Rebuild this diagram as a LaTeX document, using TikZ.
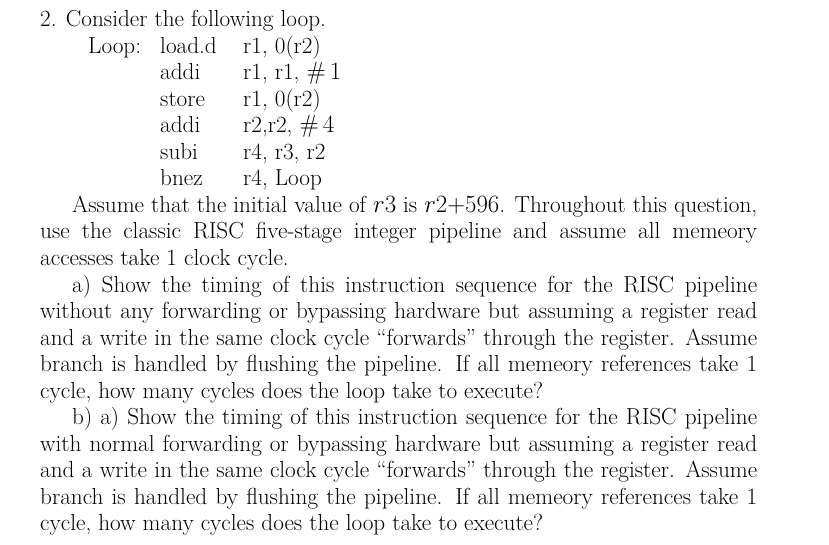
\documentclass[tikz,border=0pt]{standalone}
\begin{document}
\begin{tikzpicture}[x=1pt,y=-1pt,
  txt/.style={anchor=base west,inner sep=0pt,font=\fontsize{23.2}{26}\selectfont}]
\useasboundingbox (0,0) rectangle (829,545);
\newcommand\jl[3]{\node[txt] (n#1) at (#2,{27+26.5*#1}) {#3};}
\newcommand\fl[3]{\node[txt] (n#1) at (#2,{27+26.5*#1}) {\makebox[\dimexpr757pt-#2pt\relax][s]{#3}};}
\jl{0}{40}{2. Consider the following loop.}
\jl{1}{88}{Loop:}
\node[txt] (c1a) at (160,53.5) {load.d}; \node[txt] (c1b) at (243,53.5) {r1, 0(r2)};
\node[txt] (c2a) at (160,80) {addi};   \node[txt] (c2b) at (243,80) {r1, r1, $\#\,1$};
\node[txt] (c3a) at (160,106.5) {store};  \node[txt] (c3b) at (243,106.5) {r1, 0(r2)};
\node[txt] (c4a) at (160,133) {addi};   \node[txt] (c4b) at (243,133) {r2,r2, $\#\,4$};
\node[txt] (c5a) at (160,159.5) {subi};   \node[txt] (c5b) at (243,159.5) {r4, r3, r2};
\node[txt] (c6a) at (160,186) {bnez};   \node[txt] (c6b) at (243,186) {r4, Loop};
\fl{7}{72}{Assume that the initial value of $r3$ is $r2{+}596$. Throughout this question,}
\fl{8}{40}{use the classic RISC five-stage integer pipeline and assume all memeory}
\jl{9}{40}{accesses take 1 clock cycle.}
\fl{10}{72}{a) Show the timing of this instruction sequence for the RISC pipeline}
\fl{11}{40}{without any forwarding or bypassing hardware but assuming a register read}
\fl{12}{40}{and a write in the same clock cycle ``forwards'' through the register. Assume}
\fl{13}{40}{branch is handled by flushing the pipeline. If all memeory references take 1}
\jl{14}{40}{cycle, how many cycles does the loop take to execute?}
\fl{15}{72}{b) a) Show the timing of this instruction sequence for the RISC pipeline}
\fl{16}{40}{with normal forwarding or bypassing hardware but assuming a register read}
\fl{17}{40}{and a write in the same clock cycle ``forwards'' through the register. Assume}
\fl{18}{40}{branch is handled by flushing the pipeline. If all memeory references take 1}
\jl{19}{40}{cycle, how many cycles does the loop take to execute?}
\end{tikzpicture}
\end{document}
